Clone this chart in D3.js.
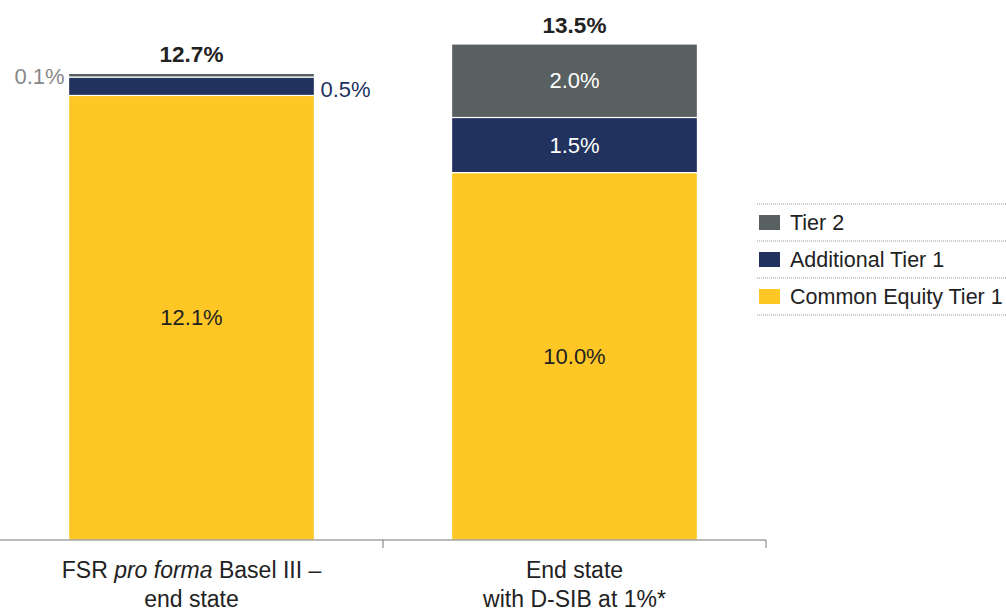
<!DOCTYPE html>
<html>
<head>
<meta charset="utf-8">
<script src="https://cdn.jsdelivr.net/npm/d3@7"></script>
<style>
  body { margin: 0; background: #fff; }
  svg { font-family: "Liberation Sans", Arial, sans-serif; }
</style>
</head>
<body>
<svg id="plot" width="1006" height="612"></svg>
<script>
const categories = ["FSR pro forma Basel III – end state", "End state with D-SIB at 1%*"]
const cet1 = [12.1, 10.0]
const at1 = [0.5, 1.5]
const tier2 = [0.1, 2.0]
const totals = [12.7, 13.5]
const seriesNames = ["Common Equity Tier 1", "Additional Tier 1", "Tier 2"]
const colors = ["#fec726", "#22325f", "#596062"]

const width = 1006
const height = 612
const margin = ({ top: 44, right: 240, bottom: 72, left: 0 })

const rows = categories.map((c, i) => ({ cat: c, cet1: cet1[i], at1: at1[i], tier2: tier2[i], total: totals[i] }))
const keys = ["cet1", "at1", "tier2"]
const stack = d3.stack().keys(keys)(rows)

const x = d3.scaleBand()
    .domain(categories)
    .range([margin.left, 766])
    .paddingInner(0.358)
    .paddingOuter(0.179)

const y = d3.scaleLinear()
    .domain([0, 13.5])
    .range([height - margin.bottom, margin.top])

const svg = d3.select("#plot")

svg.append("g")
  .selectAll("g")
  .data(stack)
  .join("g")
    .attr("fill", (d, i) => colors[i])
  .selectAll("rect")
  .data(d => d)
  .join("rect")
    .attr("x", d => x(d.data.cat))
    .attr("width", x.bandwidth())
    .attr("y", d => y(d[1]))
    .attr("height", d => y(d[0]) - y(d[1]))
    .attr("stroke", "#fff")
    .attr("stroke-width", 1.2)

// segment labels
const labelStyle = [
  { inside: [true, true], fill: ["#222", "#222"] },
  { inside: [false, true], fill: ["#22325f", "#fff"] },
  { inside: [false, true], fill: ["#888", "#fff"] }
]

stack.forEach((layer, li) => {
  layer.forEach((d, i) => {
    const inside = labelStyle[li].inside[i]
    const mid = (y(d[0]) + y(d[1])) / 2
    let tx, anchor, ty
    if (inside) {
      tx = x(d.data.cat) + x.bandwidth() / 2; anchor = "middle"; ty = mid
    } else if (li === 1) {
      tx = x(d.data.cat) + x.bandwidth() + 6; anchor = "start"; ty = mid + 3
    } else {
      tx = x(d.data.cat) - 4; anchor = "end"; ty = mid + 1
    }
    svg.append("text")
      .attr("x", tx)
      .attr("y", ty)
      .attr("dy", "0.35em")
      .attr("text-anchor", anchor)
      .attr("font-size", 22)
      .attr("fill", labelStyle[li].fill[i])
      .text(d.data[layer.key].toFixed(1) + "%")
  })
})

// totals
svg.append("g")
  .selectAll("text")
  .data(rows)
  .join("text")
    .attr("x", d => x(d.cat) + x.bandwidth() / 2)
    .attr("y", d => y(d.total) - 11)
    .attr("text-anchor", "middle")
    .attr("font-size", 22.5)
    .attr("font-weight", "bold")
    .attr("fill", "#222")
    .text(d => d.total.toFixed(1) + "%")

// x axis
const xAxis = svg.append("g")
    .attr("transform", `translate(0,${y(0)})`)
xAxis.append("line")
    .attr("x1", 0).attr("x2", 766)
    .attr("stroke", "#777").attr("stroke-width", 1)
const edges = [x.step(), 2 * x.step()]
xAxis.selectAll(".tk")
  .data(edges)
  .join("line")
    .attr("x1", d => d).attr("x2", d => d)
    .attr("y1", 0).attr("y2", 8)
    .attr("stroke", "#777")

const catLines = [
  [[{ t: "FSR " }, { t: "pro forma", it: true }, { t: " Basel III –" }], [{ t: "end state" }]],
  [[{ t: "End state" }], [{ t: "with D-SIB at 1%*" }]]
]
categories.forEach((c, i) => {
  catLines[i].forEach((line, j) => {
    const t = xAxis.append("text")
      .attr("x", x(c) + x.bandwidth() / 2)
      .attr("y", 38 + j * 29)
      .attr("text-anchor", "middle")
      .attr("font-size", 23)
      .attr("fill", "#222")
    line.forEach(p => t.append("tspan").attr("font-style", p.it ? "italic" : "normal").text(p.t))
  })
})

// legend
const legendItems = [2, 1, 0]
const lg = svg.append("g").attr("transform", "translate(757,204)")
lg.selectAll(".sep")
  .data(d3.range(4))
  .join("line")
    .attr("x1", 0).attr("x2", 249)
    .attr("y1", d => d * 37).attr("y2", d => d * 37)
    .attr("stroke", "#999")
    .attr("stroke-dasharray", "1,1")
const li = lg.selectAll(".item")
  .data(legendItems)
  .join("g")
    .attr("transform", (d, i) => `translate(0,${i * 37 + 18.5})`)
li.append("rect")
  .attr("x", 2).attr("y", -7.5).attr("width", 21).attr("height", 15)
  .attr("fill", d => colors[d])
li.append("text")
  .attr("x", 33).attr("dy", "0.35em")
  .attr("font-size", 21.5)
  .attr("fill", "#222")
  .text(d => seriesNames[d])
</script>
</body>
</html>
